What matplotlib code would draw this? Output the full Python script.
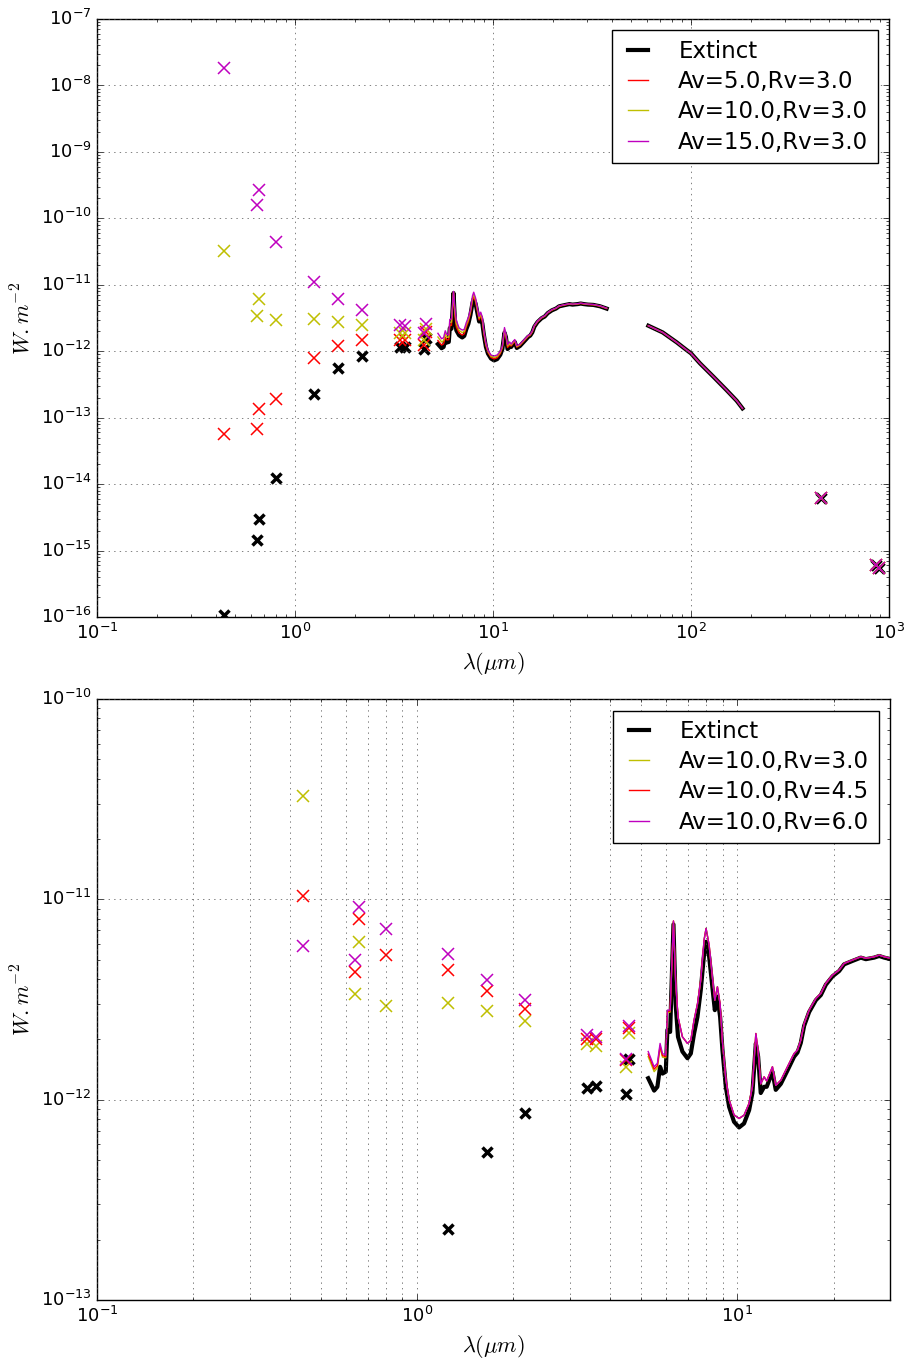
import numpy as np
import matplotlib
matplotlib.use('Agg')
import matplotlib.pyplot as plt

# photometry wavelengths (um)
phot_wl = [0.44, 0.64, 0.66, 0.80, 1.25, 1.65, 2.17, 3.39, 3.61, 4.50, 4.60]
# sub-mm points (no extinction)
smm_wl = [455., 857., 890.]
smm_flux = [6.1e-15, 6.0e-16, 5.4e-16]

phot_ext = [1.07e-16, 1.44e-15, 2.94e-15, 1.23e-14, 2.25e-13, 5.5e-13, 8.6e-13,
            1.14e-12, 1.17e-12, 1.07e-12, 1.60e-12]
phot_av5 = [5.7e-14, 6.8e-14, 1.33e-13, 1.89e-13, 8.0e-13, 1.2e-12, 1.48e-12,
            1.47e-12, 1.48e-12, 1.26e-12, 1.93e-12]
phot_av10 = [3.28e-11, 3.38e-12, 6.1e-12, 2.94e-12, 3.03e-12, 2.77e-12, 2.46e-12,
             1.89e-12, 1.85e-12, 1.46e-12, 2.16e-12]
phot_av15 = [1.82e-8, 1.58e-10, 2.63e-10, 4.37e-11, 1.09e-11, 6.2e-12, 4.2e-12,
             2.48e-12, 2.4e-12, 1.9e-12, 2.6e-12]
phot_rv45 = [1.04e-11, 4.35e-12, 8.0e-12, 5.3e-12, 4.44e-12, 3.5e-12, 2.85e-12,
             2.02e-12, 2.0e-12, 1.58e-12, 2.28e-12]
phot_rv6 = [5.85e-12, 4.98e-12, 9.2e-12, 7.08e-12, 5.33e-12, 3.95e-12, 3.14e-12,
            2.1e-12, 2.06e-12, 1.6e-12, 2.33e-12]

# mid-IR spectrum
irs_wl = [5.27, 5.50, 5.63, 5.74, 5.84, 5.98, 6.05, 6.17, 6.32, 6.42,
          6.53, 6.74, 6.99, 7.16, 7.33, 7.51, 7.69, 7.88, 7.99, 8.17,
          8.36, 8.51, 8.67, 8.84, 8.99, 9.21, 9.43, 9.77, 10.13, 10.50,
          10.89, 11.15, 11.43, 11.62, 11.84, 12.13, 12.36, 12.88, 13.19, 13.68,
          14.35, 15.05, 15.42, 15.79, 16.18, 16.77, 17.60, 18.24, 18.91, 19.84,
          20.81, 21.57, 22.90, 24.32, 25.21, 26.77, 27.75, 28.77, 30.18, 32.1,
          34.7, 37.5]
irs_ext = [1.28e-12, 1.11e-12, 1.16e-12, 1.46e-12, 1.35e-12, 1.38e-12, 2.23e-12, 2.18e-12, 7.5e-12, 3.0e-12,
           2.06e-12, 1.74e-12, 1.61e-12, 1.70e-12, 2.14e-12, 2.59e-12, 3.52e-12, 5.37e-12, 6.14e-12, 5.17e-12,
           3.66e-12, 2.80e-12, 3.27e-12, 2.59e-12, 1.77e-12, 1.16e-12, 9.22e-13, 7.76e-13, 7.27e-13, 7.61e-13,
           8.87e-13, 1.08e-12, 1.91e-12, 1.64e-12, 1.08e-12, 1.16e-12, 1.16e-12, 1.38e-12, 1.12e-12, 1.20e-12,
           1.40e-12, 1.64e-12, 1.72e-12, 1.92e-12, 2.34e-12, 2.74e-12, 3.14e-12, 3.33e-12, 3.75e-12, 4.13e-12,
           4.39e-12, 4.74e-12, 4.93e-12, 5.12e-12, 5.03e-12, 5.12e-12, 5.22e-12, 5.12e-12, 5.03e-12, 4.98e-12,
           4.75e-12, 4.38e-12]
irs_av5 = [1.45e-12, 1.24e-12, 1.29e-12, 1.63e-12, 1.48e-12, 1.49e-12, 2.46e-12, 2.44e-12, 7.65e-12, 3.42e-12,
           2.31e-12, 1.89e-12, 1.75e-12, 1.83e-12, 2.31e-12, 2.79e-12, 3.73e-12, 5.82e-12, 6.63e-12, 5.52e-12,
           3.87e-12, 2.97e-12, 3.46e-12, 2.79e-12, 1.86e-12, 1.21e-12, 9.6e-13, 8.07e-13, 7.66e-13, 7.98e-13,
           9.23e-13, 1.12e-12, 2.02e-12, 1.69e-12, 1.14e-12, 1.23e-12, 1.20e-12, 1.42e-12, 1.15e-12, 1.225e-12,
           1.43e-12, 1.67e-12, 1.745e-12, 1.95e-12, 2.37e-12, 2.77e-12, 3.17e-12, 3.36e-12, 3.78e-12, 4.16e-12,
           4.41e-12, 4.76e-12, 4.95e-12, 5.14e-12, 5.05e-12, 5.14e-12, 5.24e-12, 5.14e-12, 5.05e-12, 5.00e-12,
           4.77e-12, 4.40e-12]
irs_av10 = [1.64e-12, 1.38e-12, 1.44e-12, 1.82e-12, 1.63e-12, 1.62e-12, 2.72e-12, 2.74e-12, 7.8e-12, 3.9e-12,
            2.59e-12, 2.06e-12, 1.91e-12, 1.98e-12, 2.50e-12, 3.0e-12, 3.95e-12, 6.3e-12, 7.16e-12, 5.9e-12,
            4.1e-12, 3.14e-12, 3.66e-12, 3.0e-12, 1.95e-12, 1.27e-12, 1.0e-12, 8.4e-13, 8.06e-13, 8.37e-13,
            9.6e-13, 1.16e-12, 2.14e-12, 1.75e-12, 1.20e-12, 1.30e-12, 1.24e-12, 1.46e-12, 1.18e-12, 1.25e-12,
            1.46e-12, 1.70e-12, 1.77e-12, 1.98e-12, 2.40e-12, 2.80e-12, 3.20e-12, 3.39e-12, 3.81e-12, 4.19e-12,
            4.44e-12, 4.79e-12, 4.98e-12, 5.17e-12, 5.08e-12, 5.17e-12, 5.27e-12, 5.17e-12, 5.08e-12, 5.03e-12,
            4.80e-12, 4.42e-12]
irs_av15 = [1.86e-12, 1.54e-12, 1.60e-12, 2.03e-12, 1.79e-12, 1.76e-12, 3.01e-12, 3.07e-12, 7.96e-12, 4.45e-12,
            2.90e-12, 2.24e-12, 2.08e-12, 2.14e-12, 2.70e-12, 3.23e-12, 4.18e-12, 6.82e-12, 7.73e-12, 6.30e-12,
            4.34e-12, 3.33e-12, 3.87e-12, 3.23e-12, 2.05e-12, 1.33e-12, 1.04e-12, 8.74e-13, 8.49e-13, 8.78e-13,
            9.99e-13, 1.20e-12, 2.27e-12, 1.81e-12, 1.26e-12, 1.38e-12, 1.28e-12, 1.50e-12, 1.21e-12, 1.28e-12,
            1.49e-12, 1.73e-12, 1.80e-12, 2.01e-12, 2.43e-12, 2.83e-12, 3.23e-12, 3.42e-12, 3.84e-12, 4.22e-12,
            4.46e-12, 4.81e-12, 5.01e-12, 5.20e-12, 5.11e-12, 5.20e-12, 5.30e-12, 5.20e-12, 5.11e-12, 5.06e-12,
            4.82e-12, 4.44e-12]
# Rv=4.5 and Rv=6.0 only differ from Rv=3.0 below 6.2 um
irs_rv45_short = [1.69e-12, 1.42e-12, 1.48e-12, 1.86e-12, 1.66e-12, 1.64e-12, 2.76e-12, 2.77e-12]
irs_rv6_short = [1.74e-12, 1.46e-12, 1.52e-12, 1.91e-12, 1.70e-12, 1.67e-12, 2.80e-12, 2.80e-12]

# far-IR spectrum (same for every curve)
fir_wl = [60.9, 71.9, 84.7, 95.1, 100., 111., 129.7, 151., 170., 182.]
fir_flux = [2.42e-12, 1.92e-12, 1.36e-12, 1.04e-12, 9.3e-13, 6.57e-13, 4.14e-13, 2.61e-13, 1.80e-13, 1.38e-13]


def spectrum(irs):
    """mid-IR + far-IR with a gap in between"""
    wl = np.concatenate([irs_wl, [np.nan], fir_wl])
    fl = np.concatenate([irs, [np.nan], fir_flux])
    return wl, fl


def draw(ax, series):
    """series: list of (label, color, irs, phot)"""
    for i, (label, color, irs, phot) in enumerate(series):
        wl, fl = spectrum(irs)
        pw = list(phot_wl) + smm_wl
        pf = list(phot) + smm_flux
        if i == 0:
            ax.plot(wl, fl, color=color, lw=3, label=label)
            ax.plot(pw, pf, 'x', color=color, ms=7, mew=2.5)
        else:
            ax.plot(wl, fl, color=color, lw=1, label=label)
            ax.plot(pw, pf, 'x', color=color, ms=8, mew=1.1)
    ax.set_xscale('log')
    ax.set_yscale('log')
    ax.set_xlabel(r'$\lambda(\mu m)$', fontsize=16)
    ax.set_ylabel(r'$W.m^{-2}$', fontsize=16)
    leg = ax.legend(loc='upper right', fontsize=16.5, handlelength=1.5,
                    handletextpad=1.0, labelspacing=0.32, borderpad=0.4)
    leg.get_frame().set_linewidth(1.0)


def main():
    plt.style.use('classic')
    plt.rcParams['figure.facecolor'] = 'white'
    plt.rcParams['savefig.facecolor'] = 'white'
    plt.rcParams['xtick.labelsize'] = 13
    plt.rcParams['ytick.labelsize'] = 13
    plt.rcParams['grid.color'] = '0.3'

    fig = plt.figure(figsize=(9.09, 13.59), dpi=100)
    ax1 = fig.add_axes([0.1067, 0.546, 0.8713, 0.440])
    ax2 = fig.add_axes([0.1067, 0.0434, 0.8724, 0.4422])

    # Av varie, Rv=3.0
    draw(ax1, [('Extinct', 'k', irs_ext, phot_ext),
               ('Av=5.0,Rv=3.0', 'r', irs_av5, phot_av5),
               ('Av=10.0,Rv=3.0', 'y', irs_av10, phot_av10),
               ('Av=15.0,Rv=3.0', 'm', irs_av15, phot_av15)])
    ax1.set_xlim(0.1, 1000)
    ax1.set_ylim(1e-16, 1e-7)
    ax1.grid(True, which='major')

    # Av=10.0, Rv varie
    irs_rv45 = irs_rv45_short + irs_av10[8:]
    irs_rv6 = irs_rv6_short + irs_av10[8:]
    draw(ax2, [('Extinct', 'k', irs_ext, phot_ext),
               ('Av=10.0,Rv=3.0', 'y', irs_av10, phot_av10),
               ('Av=10.0,Rv=4.5', 'r', irs_rv45, phot_rv45),
               ('Av=10.0,Rv=6.0', 'm', irs_rv6, phot_rv6)])
    ax2.set_xlim(0.1, 30)
    ax2.set_ylim(1e-13, 1e-10)
    ax2.xaxis.grid(True, which='both')
    ax2.yaxis.grid(True, which='major')

    fig.savefig('out.png', dpi=100)


if __name__ == "__main__":
    main()
